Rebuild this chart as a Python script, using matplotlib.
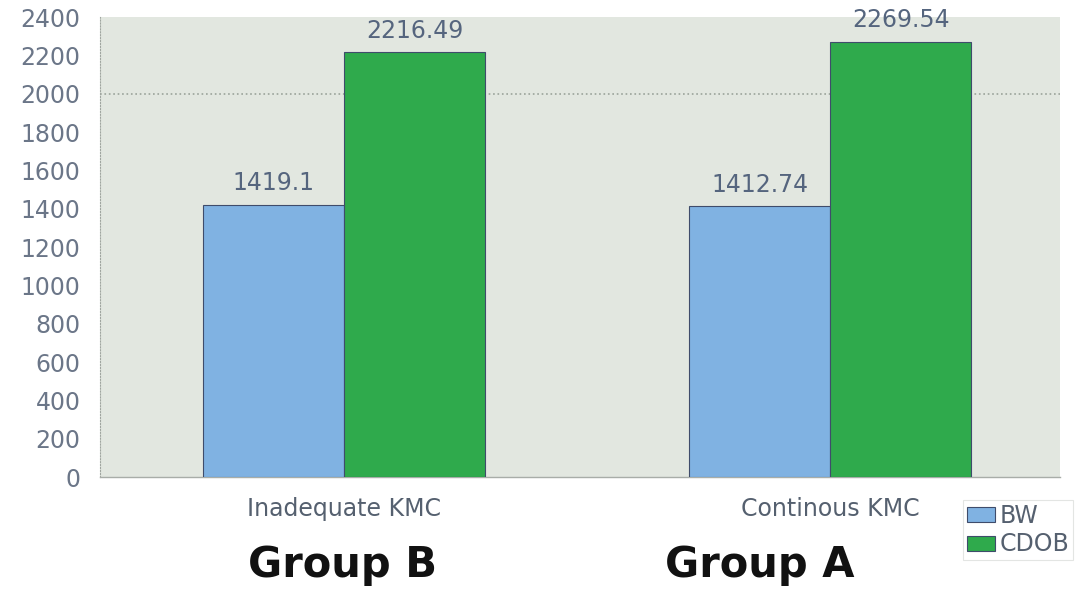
import numpy as np
import matplotlib.pyplot as plt

# 数据
categories = ['Inadequate KMC', 'Continous KMC']
series_names = ['BW', 'CDOB']
bw_values = [1419.1, 1412.74]
cdob_values = [2216.49, 2269.54]
value_labels = [['1419.1', '1412.74'], ['2216.49', '2269.54']]
group_names = ['Group B', 'Group A']
y_ticks = list(range(0, 2401, 200))

colors = ['#80b2e2', '#2faa4c']
edge = '#3f4c6b'
text_col = '#6b7688'

fig = plt.figure(figsize=(10.91, 5.89), dpi=100)
ax = fig.add_axes([0.0917, 0.19, 0.88, 0.781])
ax.set_facecolor('#e2e7e0')

x = np.arange(len(categories))
w = 0.29
bars1 = ax.bar(x - w / 2, bw_values, w, color=colors[0], edgecolor=edge, linewidth=0.8, label=series_names[0], zorder=3)
bars2 = ax.bar(x + w / 2, cdob_values, w, color=colors[1], edgecolor=edge, linewidth=0.8, label=series_names[1], zorder=3)

# 数值标签
for bars, labs in zip([bars1, bars2], value_labels):
    for b, t in zip(bars, labs):
        ax.annotate(t, (b.get_x() + b.get_width() / 2, b.get_height()),
                    xytext=(0, 7), textcoords='offset points', ha='center', va='bottom',
                    fontsize=17, color='#55657e')

ax.axhline(2000, color='#9aa39a', linestyle=':', linewidth=1.2, zorder=1)

ax.set_ylim(0, 2400)
ax.set_xlim(-0.502, 1.473)
ax.set_yticks(y_ticks)
ax.set_yticklabels([str(v) for v in y_ticks], fontsize=17, color=text_col)
ax.set_xticks(x)
ax.set_xticklabels(categories, fontsize=17, color='#55606f')
ax.tick_params(axis='y', length=0, pad=14)
ax.tick_params(axis='x', length=0, pad=14)

for s in ['top', 'right']:
    ax.spines[s].set_visible(False)
ax.spines['left'].set_linestyle(':')
ax.spines['left'].set_color('#a0a6a0')
ax.spines['bottom'].set_color('#a8ada8')
ax.spines['bottom'].set_linewidth(1.0)

leg = fig.legend(loc='upper left', bbox_to_anchor=(0.872, 0.171), fontsize=17, frameon=True,
                 handlelength=1.2, handleheight=0.6, handletextpad=0.2, labelspacing=0.2,
                 borderpad=0.15, fancybox=False)
leg.get_frame().set_edgecolor('#dcdfdc')
leg.get_frame().set_linewidth(0.8)
for t in leg.get_texts():
    t.set_color('#55606f')

# 分组文字
fig.text(343 / 1091, 1 - 565 / 589, group_names[0], ha='center', va='center', fontsize=30, fontweight='bold', color='#111111')
fig.text(760 / 1091, 1 - 565 / 589, group_names[1], ha='center', va='center', fontsize=30, fontweight='bold', color='#111111')

fig.savefig('out.png', dpi=100)
